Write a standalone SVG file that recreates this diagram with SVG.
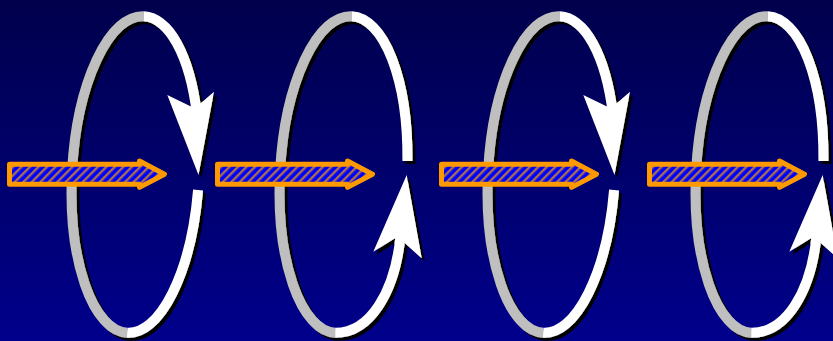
<svg xmlns="http://www.w3.org/2000/svg" xmlns:xlink="http://www.w3.org/1999/xlink" width="833" height="341" viewBox="0 0 833 341">
  <style>
    .gray { fill: none; stroke: #bfbfbf; stroke-width: 10; }
    .white { fill: none; stroke: #ffffff; stroke-width: 10; }
    .head { fill: #ffffff; stroke: none; }
    .flow { fill: url(#hatch); stroke: #ff9900; stroke-width: 5; stroke-linejoin: round; }
  </style>
  <defs>
    <linearGradient id="bg" x1="0" y1="0" x2="0" y2="1">
      <stop offset="0" stop-color="#00004c"/>
      <stop offset="1" stop-color="#00008c"/>
    </linearGradient>
    <pattern id="hatch" patternUnits="userSpaceOnUse" width="6" height="6" patternTransform="rotate(45)">
      <rect width="6" height="6" fill="#0000ff"/>
      <rect width="2.4" height="6" fill="#a8704c"/>
    </pattern>
    <filter id="sh" x="-20%" y="-10%" width="140%" height="120%">
      <feDropShadow dx="3" dy="3" stdDeviation="0" flood-color="#000000" flood-opacity="1"/>
    </filter>
    <g id="loopDown">
      <path class="gray" d="M143.8,16.2 A63.5,158.5 3 0 0 72.09,171.18 A63.5,158.5 3 0 0 127.2,332.8"/>
      <path class="white" d="M143.8,16.2 A63.5,158.5 3 0 1 196.86,113.6"/>
      <path class="white" d="M198.08,190 A63.5,158.5 3 0 1 127.2,332.8"/>
      <polygon class="head" points="167.3,95 191,106.5 201,103 214,91.7 198.5,175"/>
    </g>
    <g id="loopUp">
      <path class="gray" d="M143.8,16.2 A63.5,158.5 3 0 0 72.09,171.18 A63.5,158.5 3 0 0 127.2,332.8"/>
      <path class="white" d="M143.8,16.2 A63.5,158.5 3 0 1 199.43,161"/>
      <path class="white" d="M127.2,332.8 C162,333 187,292 192.5,236"/>
      <polygon class="head" points="198.7,175 213.7,258.3 197,243.3 187,238.3 165.3,251.7"/>
    </g>
    <path id="flowArrow" class="flow" d="M9.5,164.2 H139.5 V161 L164.5,174.2 L139.5,187.4 V184.2 H9.5 Z"/>
  </defs>

  <rect width="833" height="341" fill="url(#bg)"/>

  <g id="loop1" filter="url(#sh)"><use href="#loopDown"/></g>
  <g id="loop2" filter="url(#sh)"><use href="#loopUp" x="208"/></g>
  <g id="loop3" filter="url(#sh)"><use href="#loopDown" x="416"/></g>
  <g id="loop4" filter="url(#sh)"><use href="#loopUp" x="624"/></g>

  <g id="flows">
    <use href="#flowArrow"/>
    <use href="#flowArrow" x="208"/>
    <use href="#flowArrow" x="432"/>
    <use href="#flowArrow" x="640"/>
  </g>
</svg>
